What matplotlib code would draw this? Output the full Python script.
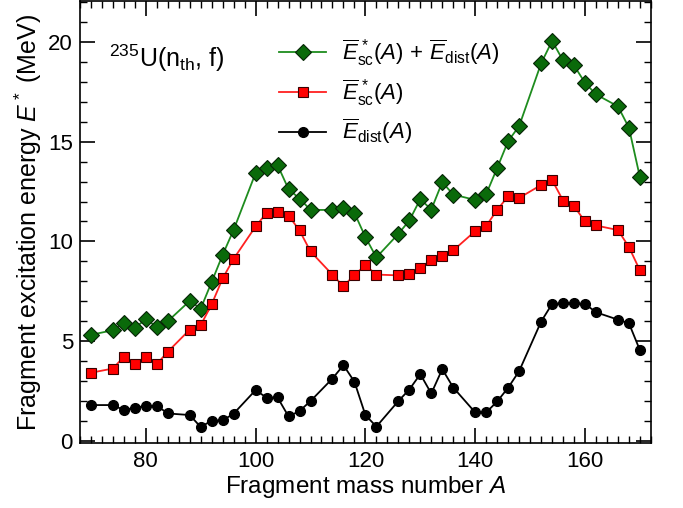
import matplotlib

matplotlib.use("Agg")
import matplotlib.pyplot as plt
from matplotlib.ticker import MultipleLocator

plt.rcParams["font.family"] = ["Liberation Sans", "DejaVu Sans"]
plt.rcParams["mathtext.fontset"] = "custom"
plt.rcParams["mathtext.rm"] = "Liberation Sans"
plt.rcParams["mathtext.it"] = "Liberation Sans:italic"
plt.rcParams["mathtext.bf"] = "Liberation Sans:bold"

# fragment mass numbers
mass = [70, 74, 76, 78, 80, 82, 84, 88, 90, 92, 94, 96, 100, 102, 104, 106, 108,
        110, 114, 116, 118, 120, 122, 126, 128, 130, 132, 134, 136, 140, 142, 144,
        146, 148, 152, 154, 156, 158, 160, 162, 166, 168, 170]

e_total = [5.32, 5.55, 5.93, 5.67, 6.10, 5.72, 6.00, 7.02, 6.63, 7.97, 9.33, 10.58,
           13.43, 13.68, 13.83, 12.62, 12.15, 11.58, 11.58, 11.70, 11.43, 10.22, 9.20,
           10.38, 11.05, 12.12, 11.60, 12.97, 12.35, 12.08, 12.37, 13.68, 15.03, 15.78,
           18.92, 20.05, 19.07, 18.82, 17.95, 17.37, 16.77, 15.70, 13.22]

e_sc = [3.42, 3.63, 4.22, 3.88, 4.22, 3.85, 4.47, 5.58, 5.80, 6.85, 8.15, 9.13,
        10.75, 11.43, 11.50, 11.30, 10.55, 9.50, 8.33, 7.75, 8.33, 8.80, 8.34,
        8.30, 8.38, 8.67, 9.08, 9.27, 9.55, 10.52, 10.78, 11.58, 12.27, 12.18,
        12.83, 13.08, 12.05, 11.77, 11.00, 10.80, 10.57, 9.72, 8.55]

e_dist = [1.80, 1.80, 1.55, 1.67, 1.75, 1.77, 1.38, 1.30, 0.70, 1.02, 1.03, 1.37,
          2.55, 2.17, 2.18, 1.23, 1.50, 2.00, 3.13, 3.80, 2.97, 1.30, 0.72,
          2.00, 2.58, 3.35, 2.38, 3.60, 2.68, 1.43, 1.43, 1.98, 2.67, 3.50,
          5.98, 6.87, 6.90, 6.90, 6.87, 6.45, 6.08, 5.90, 4.55]

fig = plt.figure(figsize=(6.83, 5.08), dpi=100)
ax = fig.add_axes([0.117, 0.128, 0.836, 0.870])

ax.plot(mass, e_total, color="#1e8c1e", lw=1.3, marker="D", ms=8.5,
        mfc="#0a6a0a", mec="#062406", mew=0.8,
        label=r"$\overline{E}^{\,*}_{\mathrm{sc}}(A)\,+\,\overline{E}_{\mathrm{dist}}(A)$")
ax.plot(mass, e_sc, color="#ff2020", lw=1.3, marker="s", ms=7,
        mfc="#ff0000", mec="#3a0000", mew=0.8,
        label=r"$\overline{E}^{\,*}_{\mathrm{sc}}(A)$")
ax.plot(mass, e_dist, color="black", lw=1.3, marker="o", ms=7,
        mfc="black", mec="black",
        label=r"$\overline{E}_{\mathrm{dist}}(A)$")

ax.set_xlim(68, 172)
ax.set_ylim(-0.1, 22.05)
ax.xaxis.set_major_locator(MultipleLocator(20))
ax.xaxis.set_minor_locator(MultipleLocator(2))
ax.yaxis.set_major_locator(MultipleLocator(5))
ax.yaxis.set_minor_locator(MultipleLocator(1))
ax.tick_params(which="both", direction="in", top=True, right=True, labelsize=16)
ax.tick_params(which="major", length=10.5, width=1.2)
ax.tick_params(which="minor", length=5, width=1.0)
ax.tick_params(axis="x", pad=6)
ax.tick_params(axis="y", pad=5)
for s in ax.spines.values():
    s.set_linewidth(1.2)

ax.set_xlabel(r"Fragment mass number $A$", fontsize=17.5, labelpad=1)
ax.set_ylabel(r"Fragment excitation energy $E^*$ (MeV)", fontsize=18, labelpad=3)

ax.text(73.3, 19.2, r"$^{235}$U(n$_{\mathrm{th}}$, f)", fontsize=18, va="center")

ax.legend(loc="upper left", bbox_to_anchor=(0.348, 0.918), frameon=False,
          borderaxespad=0, borderpad=0,
          fontsize=16, handlelength=2.15, labelspacing=0.42, handletextpad=0.72)

fig.savefig("out.png", dpi=100)
